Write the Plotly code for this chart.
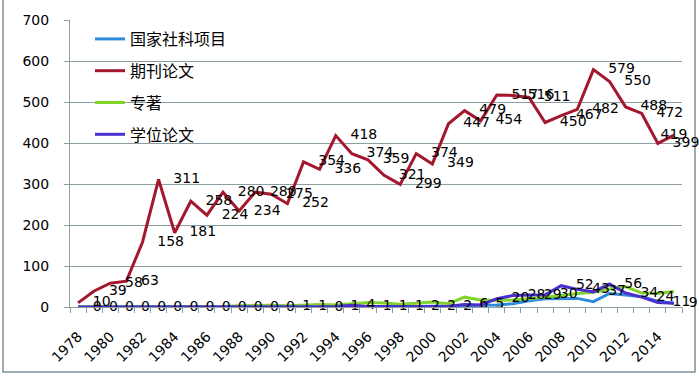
import plotly.graph_objects as go

years = list(range(1978, 2016))
tick_years = list(range(1978, 2015, 2))

series_names = ["国家社科项目", "期刊论文", "专著", "学位论文"]

guojia = [0, 0, 0, 0, 0, 0, 0, 0, 0, 0,
          0, 0, 0, 0, 0, 0, 0, 0, 1, 1,
          1, 1, 2, 2, 3, 4, 5, 8, 15, 20,
          20, 21, 13, 33, 29, 25, 14, 9]
qikan = [10, 39, 58, 63, 158, 311, 181, 258, 224, 280,
         234, 280, 275, 252, 354, 336, 418, 374, 359, 321,
         299, 374, 349, 447, 479, 454, 517, 516, 511, 450,
         467, 482, 579, 550, 488, 472, 399, 419]
zhuanzhu = [0, 0, 0, 0, 0, 0, 0, 0, 0, 1,
            3, 4, 4, 3, 5, 6, 5, 8, 11, 10,
            7, 9, 12, 8, 24, 17, 16, 17, 20, 24,
            28, 33, 36, 44, 50, 34, 33, 38]
xuewei = [0, 0, 0, 0, 0, 0, 0, 0, 0, 0,
          0, 0, 0, 1, 1, 0, 1, 4, 1, 1,
          1, 2, 2, 2, 6, 5, 20, 28, 29, 30,
          52, 43, 37, 56, 34, 24, 11, 9]

colors = ["#2F8CDD", "#A3172F", "#82D42A", "#4B2FCF"]
data = [guojia, qikan, zhuanzhu, xuewei]

# plot area in pixels
L, R, T, B = 70, 682, 20, 307
W, H = 699, 378

fig = go.Figure()
for i, (name, vals, col) in enumerate(zip(series_names, data, colors)):
    fig.add_trace(go.Scatter(
        x=years, y=vals, name=name, mode="lines",
        line=dict(color=col, width=3),
        legendgroup=name, hoverinfo="skip"))

# data labels (transparent markers push the text to the right)
for vals in (qikan, xuewei):
    pos = ["middle right"] * len(vals)
    if vals is qikan:
        pos[-1] = "middle center"
    fig.add_trace(go.Scatter(
        x=years, y=vals, mode="markers+text", showlegend=False,
        text=[str(v) for v in vals], textposition=pos,
        marker=dict(size=22, color="rgba(0,0,0,0)"),
        textfont=dict(family="DejaVu Sans", size=14, color="#000000"),
        hoverinfo="skip", cliponaxis=False))

fig.update_layout(
    width=W, height=H,
    margin=dict(l=L, r=W - R, t=T, b=H - B, autoexpand=False),
    paper_bgcolor="white", plot_bgcolor="white",
    font=dict(family="DejaVu Sans", size=14, color="#000000"),
    showlegend=True,
    legend=dict(
        x=(90 - L) / (R - L), y=(B - 22) / (B - T),
        xanchor="left", yanchor="top",
        bgcolor="rgba(0,0,0,0)",
        font=dict(family="Noto Sans CJK SC", size=16, color="#000000"),
        tracegroupgap=8, traceorder="grouped"),
    xaxis=dict(
        range=[1977.5, 2015.5],
        tickmode="array", tickvals=tick_years,
        ticktext=[str(y) for y in tick_years],
        tickangle=-45, ticks="", showgrid=False,
        showline=True, linecolor="#8C9EA4", linewidth=1,
        tickfont=dict(family="DejaVu Sans", size=14),
        ticklabelstandoff=15,
        minor=dict(tick0=1977.5, dtick=1, ticks="outside", ticklen=5,
                   tickcolor="#8C9EA4", showgrid=False),
        zeroline=False),
    yaxis=dict(
        range=[0, 700], dtick=100, tick0=0,
        showgrid=True, gridcolor="#8C9EA4", gridwidth=1,
        showline=True, linecolor="#8C9EA4", linewidth=1,
        ticks="outside", ticklen=5, tickcolor="#8C9EA4",
        tickfont=dict(family="DejaVu Sans", size=14),
        ticklabelstandoff=12,
        zeroline=False),
)

# chart-area border
fig.add_shape(type="rect", xref="paper", yref="paper",
              x0=(3 - L) / (R - L), x1=(695 - L) / (R - L),
              y0=(B - 372) / (B - T), y1=(B + 5) / (B - T),
              line=dict(color="#7F9097", width=1.5), fillcolor="rgba(0,0,0,0)",
              layer="below")

fig.write_html("out.html", config={"displayModeBar": False},
               post_script="document.body.style.margin='0px';document.body.style.overflow='hidden';")
